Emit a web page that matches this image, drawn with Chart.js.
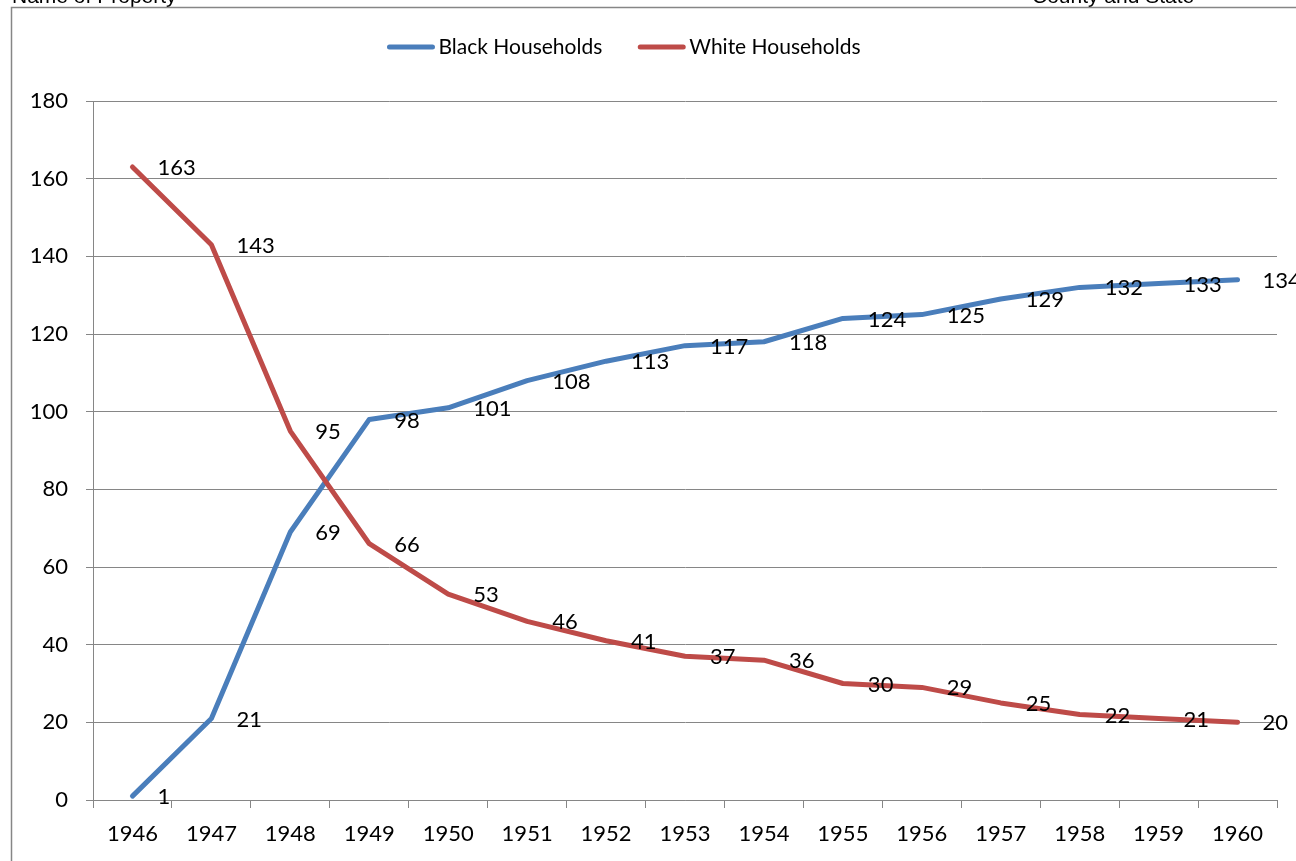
<!DOCTYPE html>
<html>
<head>
<meta charset="utf-8">
<script src="https://cdn.jsdelivr.net/npm/chart.js@4/dist/chart.umd.min.js"></script>
<style>
html,body{margin:0;padding:0;background:#fff;overflow:hidden;}
#wrap{position:absolute;left:0;top:0;width:1296px;height:861px;}
canvas{display:block;}
</style>
</head>
<body>
<div id="wrap"><canvas id="c" width="1296" height="861"></canvas></div>
<script>
// ---- data ----
const years = ['1946','1947','1948','1949','1950','1951','1952','1953','1954','1955','1956','1957','1958','1959','1960'];
const blackHouseholds = [1, 21, 69, 98, 101, 108, 113, 117, 118, 124, 125, 129, 132, 133, 134];
const whiteHouseholds = [163, 143, 95, 66, 53, 46, 41, 37, 36, 30, 29, 25, 22, 21, 20];
const yTickValues = [0, 20, 40, 60, 80, 100, 120, 140, 160, 180];
const seriesNames = ['Black Households', 'White Households'];
const headerLeft = 'Name of Property';
const headerRight = 'County and State';

// ---- styles ----
const blue = '#4A7EBB';
const red = '#BE4B48';
const gridColor = '#868686';
const FONT = 'Lato, "Open Sans", sans-serif';
const FS = 22;
const LEGEND_FS = 21;

const framePlugin = {
  id: 'frame',
  beforeDraw(chart) {
    const ctx = chart.ctx;
    ctx.save();
    ctx.fillStyle = '#000';
    ctx.font = '21px "Liberation Sans", Arial, sans-serif';
    ctx.textBaseline = 'alphabetic';
    ctx.textAlign = 'left';
    ctx.fillText(headerLeft, 12, 2.5);
    ctx.fillText(headerRight, 1032, 2.5);
    ctx.strokeStyle = gridColor;
    ctx.lineWidth = 1.5;
    ctx.beginPath();
    ctx.moveTo(11.5, 900);
    ctx.lineTo(11.5, 7.5);
    ctx.lineTo(1400, 7.5);
    ctx.stroke();
    ctx.restore();
  }
};

const labelPlugin = {
  id: 'pointLabels',
  afterDatasetsDraw(chart) {
    const ctx = chart.ctx;
    ctx.save();
    ctx.font = FS + 'px ' + FONT;
    ctx.fillStyle = '#000';
    ctx.textAlign = 'left';
    ctx.textBaseline = 'middle';
    chart.data.datasets.forEach((ds, i) => {
      const meta = chart.getDatasetMeta(i);
      meta.data.forEach((pt, j) => {
        ctx.fillText(String(ds.data[j]), pt.x + 25, pt.y + 1);
      });
    });
    ctx.restore();
  }
};

const legendPlugin = {
  id: 'customLegend',
  afterDraw(chart) {
    const ctx = chart.ctx;
    ctx.save();
    ctx.font = LEGEND_FS + 'px ' + FONT;
    const lineLen = 47, gap = 4, itemGap = 36;
    const items = chart.data.datasets.map(ds => ({ text: ds.label, color: ds.borderColor, w: ctx.measureText(ds.label).width }));
    let total = 0;
    items.forEach((it, k) => { total += lineLen + gap + it.w + (k < items.length - 1 ? itemGap : 0); });
    let x = 624 - total / 2;
    const y = 47;
    items.forEach(it => {
      ctx.strokeStyle = it.color;
      ctx.lineWidth = 5;
      ctx.lineCap = 'round';
      ctx.beginPath();
      ctx.moveTo(x + 2, y);
      ctx.lineTo(x + lineLen - 2, y);
      ctx.stroke();
      ctx.fillStyle = '#000';
      ctx.textAlign = 'left';
      ctx.textBaseline = 'middle';
      ctx.fillText(it.text, x + lineLen + gap, y);
      x += lineLen + gap + it.w + itemGap;
    });
    ctx.restore();
  }
};

new Chart(document.getElementById('c'), {
  type: 'line',
  data: {
    labels: years,
    datasets: [
      { label: seriesNames[0], data: blackHouseholds, borderColor: blue, backgroundColor: blue, borderWidth: 5, pointRadius: 0, tension: 0, borderJoinStyle: 'round', borderCapStyle: 'round', order: 1 },
      { label: seriesNames[1], data: whiteHouseholds, borderColor: red, backgroundColor: red, borderWidth: 5, pointRadius: 0, tension: 0, borderJoinStyle: 'round', borderCapStyle: 'round', order: 0 }
    ]
  },
  options: {
    responsive: false,
    animation: false,
    events: [],
    layout: { padding: { top: 101, right: 19, left: 0, bottom: 0 } },
    plugins: { legend: { display: false }, tooltip: { enabled: false }, title: { display: false } },
    scales: {
      x: {
        type: 'category',
        offset: true,
        grid: { offset: true, drawOnChartArea: false, drawTicks: true, tickLength: 8, color: gridColor, lineWidth: 1 },
        border: { display: true, color: gridColor, width: 1 },
        ticks: { color: '#000', font: { family: FONT, size: FS }, padding: 13, maxRotation: 0, autoSkip: false },
        afterFit(scale) { scale.height = 61; }
      },
      y: {
        min: 0, max: 180,
        afterBuildTicks(scale) { scale.ticks = yTickValues.map(v => ({ value: v })); },
        grid: { drawTicks: true, tickLength: 7, color: gridColor, lineWidth: 1 },
        border: { display: true, color: gridColor, width: 1 },
        ticks: { color: '#000', font: { family: FONT, size: FS }, padding: 18 },
        afterFit(scale) { scale.width = 93; }
      }
    }
  },
  plugins: [framePlugin, labelPlugin, legendPlugin]
});
</script>
</body>
</html>
